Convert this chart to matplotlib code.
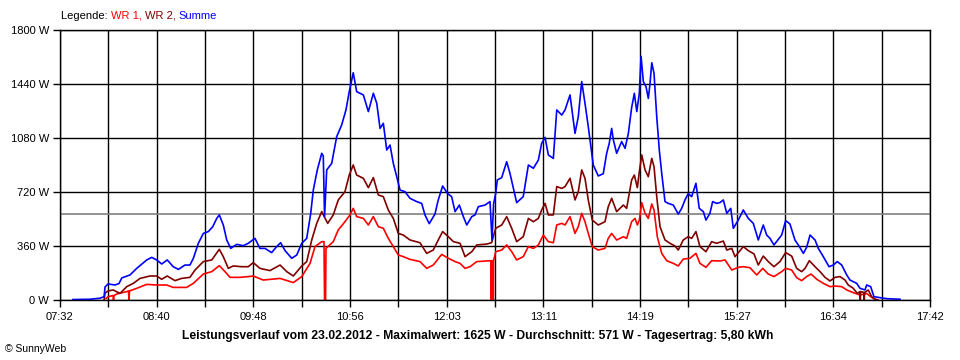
import matplotlib
matplotlib.use("Agg")
import matplotlib.pyplot as plt
import numpy as np

plt.rcParams['font.family'] = ['Liberation Sans', 'DejaVu Sans']
plt.rcParams['font.size'] = 8

# x axis: minutes after midnight, 07:32 .. 17:42
x_labels = ["07:32", "08:40", "09:48", "10:56", "12:03",
            "13:11", "14:19", "15:27", "16:34", "17:42"]
y_ticks = [0, 360, 720, 1080, 1440, 1800]
avg_w = 571

# Summe (blue)
summe_t = [461.1, 473.0, 480.0, 482.9, 483.6, 485.7, 490.6, 493.4, 495.3, 501.1,
           505.8, 512.8, 516.3, 519.8, 523.3, 527.2, 531.4, 535.0, 539.6, 543.1,
           545.5, 549.0, 552.5, 556.0, 559.1, 561.9, 563.7, 566.5, 568.9, 571.7,
           575.9, 580.5, 584.0, 588.7, 592.2, 595.7, 600.4, 603.9, 606.7, 609.8,
           614.5, 618.0, 621.5, 625.0, 627.8, 629.6, 632.4, 635.5, 636.6, 637.5,
           639.0, 642.5, 646.0, 649.5, 652.5, 654.8, 657.6, 660.0, 664.7, 668.2,
           671.7, 674.1, 676.4, 678.7, 681.1, 683.4, 685.7, 688.1, 690.4, 693.9,
           697.4, 702.1, 705.6, 707.9, 710.9, 714.9, 717.2, 720.3, 723.6, 726.6,
           729.0, 732.0, 734.8, 737.2, 740.7, 743.0, 745.3, 750.0, 753.5, 754.9,
           756.0, 757.5, 758.6, 761.7, 765.2, 767.5, 769.8, 772.2, 776.8, 780.4,
           783.9, 787.4, 789.7, 792.1, 794.4, 797.9, 800.3, 803.8, 806.1, 809.6,
           813.1, 815.4, 817.8, 820.1, 822.4, 824.8, 825.9, 829.4, 832.9, 835.3,
           837.1, 838.8, 840.0, 842.3, 845.8, 848.2, 850.5, 852.8, 854.7, 856.4,
           858.2, 859.4, 861.0, 862.9, 864.5, 865.7, 866.9, 868.5, 870.4, 872.2,
           873.9, 876.2, 878.5, 882.0, 885.5, 887.9, 890.2, 892.5, 894.9, 897.9,
           900.2, 903.1, 904.9, 907.7, 909.6, 912.4, 914.8, 917.1, 919.5, 922.3,
           924.1, 927.6, 931.1, 934.6, 938.1, 941.6, 945.1, 947.5, 949.8, 952.6,
           955.6, 958.0, 960.8, 963.8, 967.3, 970.4, 973.2, 975.5, 977.9, 981.4,
           983.7, 987.2, 991.2, 994.2, 997.0, 1000.1, 1003.6, 1005.9, 1008.2, 1010.6,
           1012.9, 1016.4, 1017.6, 1020.4, 1022.7, 1026.9, 1031.6, 1041.0]
summe_w = [3, 5, 12, 22, 87, 107, 100, 110, 147, 167,
           211, 267, 284, 267, 240, 267, 222, 204, 233, 233,
           278, 378, 444, 456, 489, 544, 567, 500, 400, 344,
           371, 362, 378, 411, 344, 344, 316, 356, 382, 329,
           278, 300, 378, 411, 578, 733, 867, 978, 960, 556,
           867, 911, 1089, 1167, 1267, 1389, 1515, 1389, 1367, 1256,
           1378, 1311, 1144, 1178, 1000, 1033, 911, 822, 733, 722,
           678, 656, 644, 567, 509, 573, 667, 760, 711, 689,
           589, 633, 556, 500, 556, 567, 622, 633, 656, 400,
           640, 711, 800, 816, 922, 844, 749, 649, 689, 900,
           878, 933, 1044, 1084, 967, 944, 1267, 1233, 1267, 1367,
           1111, 1222, 1456, 1311, 1156, 978, 900, 827, 842, 978,
           1044, 1144, 1067, 978, 1056, 1011, 1111, 1282, 1378, 1256,
           1378, 1625, 1456, 1422, 1344, 1444, 1582, 1511, 1222, 1000,
           844, 656, 644, 633, 573, 611, 667, 709, 689, 778,
           611, 589, 533, 578, 656, 644, 650, 667, 578, 611,
           478, 533, 600, 544, 511, 400, 500, 433, 411, 367,
           404, 433, 529, 507, 400, 356, 311, 351, 433, 400,
           344, 289, 222, 233, 256, 233, 167, 133, 122, 111,
           78, 67, 100, 89, 22, 16, 9, 5]

# WR 1 (red)
wr1_t = [484.3, 485.7, 489.2, 489.5, 489.9, 491.8, 498.8, 500.0, 500.4, 500.7,
         505.8, 512.8, 519.8, 526.8, 531.4, 540.8, 545.5, 552.5, 558.4, 563.7,
         567.7, 571.2, 578.2, 584.0, 587.5, 594.5, 606.3, 615.6, 621.5, 627.3,
         630.8, 635.5, 637.1, 637.5, 638.2, 638.5, 643.6, 647.1, 651.8, 655.3,
         657.6, 660.0, 664.7, 668.2, 671.7, 675.2, 678.7, 682.2, 685.7, 689.2,
         692.7, 697.4, 704.4, 709.1, 713.7, 719.6, 724.3, 729.0, 732.5, 736.0,
         739.5, 744.2, 751.2, 754.2, 754.4, 754.6, 755.6, 755.8, 756.0, 757.5,
         761.7, 765.2, 768.7, 772.2, 776.8, 780.4, 783.9, 787.4, 790.9, 794.4,
         797.9, 800.3, 803.8, 806.1, 809.6, 813.1, 815.4, 817.8, 820.1, 822.4,
         825.2, 829.4, 834.1, 836.4, 838.8, 842.3, 847.0, 849.3, 852.8, 855.2,
         856.8, 858.2, 859.9, 862.2, 864.5, 866.9, 868.5, 870.8, 873.9, 877.4,
         882.0, 885.5, 889.0, 893.7, 897.9, 900.7, 904.9, 908.9, 914.8, 918.3,
         923.0, 927.6, 931.1, 935.8, 940.5, 944.7, 948.6, 952.6, 958.0, 960.8,
         965.0, 968.5, 972.0, 975.5, 978.6, 982.6, 987.2, 991.9, 995.4, 1000.1,
         1003.6, 1008.2, 1012.9, 1017.6, 1020.4, 1023.4, 1025.5]
wr1_w = [10, 22, 30, 0, 30, 40, 56, 60, 0, 60,
         78, 104, 100, 100, 84, 84, 111, 173, 189, 229,
         189, 151, 151, 156, 160, 133, 144, 116, 156, 244,
         356, 389, 389, 0, 0, 344, 389, 467, 522, 567,
         611, 556, 544, 500, 556, 489, 478, 411, 356, 300,
         289, 271, 256, 211, 233, 304, 278, 256, 244, 211,
         222, 256, 260, 262, 0, 262, 262, 0, 262, 322,
         333, 367, 322, 267, 289, 356, 344, 367, 433, 389,
         382, 500, 511, 500, 556, 444, 489, 578, 522, 444,
         356, 333, 344, 411, 444, 400, 422, 411, 522, 544,
         500, 533, 649, 578, 544, 640, 600, 422, 311, 262,
         244, 227, 273, 278, 311, 244, 218, 262, 260, 267,
         200, 218, 222, 215, 167, 211, 173, 156, 189, 211,
         200, 149, 129, 156, 173, 138, 111, 89, 93, 89,
         67, 49, 33, 44, 22, 5, 0]

# WR 2 (dark red)
wr2_t = [482.9, 483.6, 485.7, 489.2, 494.1, 498.8, 503.4, 508.1, 515.1, 519.8,
         523.3, 527.2, 532.6, 537.3, 543.1, 546.7, 552.5, 558.4, 563.7, 566.5,
         570.0, 573.5, 579.4, 584.0, 587.5, 592.2, 599.2, 606.3, 611.0, 615.6,
         621.5, 625.0, 628.5, 632.0, 635.5, 639.7, 643.6, 647.1, 651.8, 654.8,
         657.6, 660.0, 664.7, 668.2, 671.7, 675.2, 678.7, 682.2, 685.7, 689.2,
         692.7, 697.4, 704.4, 709.1, 713.7, 717.2, 720.3, 724.3, 727.8, 732.5,
         736.0, 740.7, 744.2, 751.2, 754.6, 757.5, 761.7, 765.2, 768.7, 772.2,
         776.8, 780.4, 783.9, 787.4, 789.7, 792.1, 794.4, 797.9, 800.3, 803.8,
         806.1, 809.6, 813.1, 815.4, 817.8, 820.1, 822.4, 825.2, 829.4, 834.1,
         836.4, 838.8, 842.3, 847.0, 849.3, 852.8, 854.7, 856.8, 858.2, 859.9,
         862.2, 864.5, 866.9, 868.5, 870.4, 872.7, 876.2, 879.7, 883.2, 885.5,
         889.0, 892.5, 894.9, 897.9, 900.7, 904.9, 908.9, 912.4, 917.1, 919.5,
         923.0, 925.3, 931.1, 934.6, 938.6, 941.6, 945.1, 948.6, 952.6, 956.8,
         960.8, 965.0, 968.5, 972.0, 974.4, 977.4, 981.4, 984.9, 988.4, 991.9,
         995.4, 998.9, 1002.4, 1004.7, 1008.2, 1011.0, 1012.9, 1013.1, 1013.4, 1015.7,
         1015.9, 1016.2, 1018.7, 1021.1, 1023.4, 1025.5]
wr2_w = [0, 47, 60, 67, 44, 89, 111, 144, 160, 160,
         138, 160, 129, 144, 151, 200, 256, 267, 338, 289,
         211, 227, 222, 222, 249, 211, 196, 233, 189, 160,
         227, 256, 400, 511, 589, 511, 567, 667, 722, 833,
         900, 833, 811, 749, 816, 700, 689, 600, 544, 444,
         433, 400, 382, 311, 333, 400, 456, 422, 389, 378,
         289, 322, 367, 373, 382, 478, 500, 556, 478, 389,
         422, 544, 522, 544, 600, 644, 567, 567, 756, 744,
         756, 811, 667, 722, 867, 811, 667, 533, 500, 522,
         622, 678, 589, 633, 611, 800, 833, 749, 856, 967,
         867, 822, 944, 889, 689, 489, 400, 378, 360, 333,
         400, 422, 411, 456, 356, 322, 389, 378, 393, 333,
         344, 289, 356, 329, 307, 233, 293, 256, 222, 256,
         316, 293, 211, 189, 211, 262, 222, 189, 151, 127,
         151, 156, 133, 100, 78, 44, 56, 0, 56, 50,
         0, 50, 67, 22, 5, 0]

fig = plt.figure(figsize=(9.6, 3.6), dpi=100)
ax = fig.add_axes([60 / 960, 60 / 360, 870 / 960, 270 / 360])

t0, t1 = 452, 1062
major = np.linspace(t0, t1, len(x_labels))
minor = (major[:-1] + major[1:]) / 2

ax.set_xlim(t0, t1)
ax.set_ylim(0, 1800)
ax.set_xticks(major)
ax.set_xticklabels(x_labels)
ax.set_xticks(minor, minor=True)
ax.set_yticks(y_ticks)
ax.set_yticklabels([f"{v} W" for v in y_ticks])

ax.grid(True, which='both', axis='x', color='black', lw=1)
ax.grid(True, which='major', axis='y', color='black', lw=1)
ax.set_axisbelow(True)
ax.tick_params(axis='both', which='both', direction='out', length=5,
               width=1, color='black', labelsize=8, pad=3)
ax.tick_params(axis='x', which='major', pad=4)
for s in ax.spines.values():
    s.set_color('black')
    s.set_linewidth(1)

ax.axhline(avg_w, color='#808080', lw=1.2, zorder=1.5)

ax.plot(wr1_t, wr1_w, color='#ff0000', lw=1.2)
ax.plot(wr2_t, wr2_w, color='#800000', lw=1.2)
ax.plot(summe_t, summe_w, color='#0000ff', lw=1.2)

# legend line at the top
fig.canvas.draw()
renderer = fig.canvas.get_renderer()
x = 61 / 960
y = 1 - 16 / 360
parts = [("Legende: ", "black"), ("WR 1, ", "#ff0000"),
         ("WR 2, ", "#800000"), ("Summe", "#0000ff")]
for txt, col in parts:
    t = fig.text(x, y, txt, color=col, fontsize=8, va='center', ha='left')
    bb = t.get_window_extent(renderer=renderer)
    x += bb.width / fig.bbox.width

fig.text(478 / 960, 1 - 336.5 / 360,
         "Leistungsverlauf vom 23.02.2012 - Maximalwert: 1625 W - "
         "Durchschnitt: 571 W - Tagesertrag: 5,80 kWh",
         ha='center', va='center', fontsize=8.7, fontweight='bold')
fig.text(5 / 960, 1 - 349 / 360, "\u00a9 SunnyWeb", ha='left', va='center',
         fontsize=7.5)

fig.savefig("out.png", dpi=100, facecolor='white')
